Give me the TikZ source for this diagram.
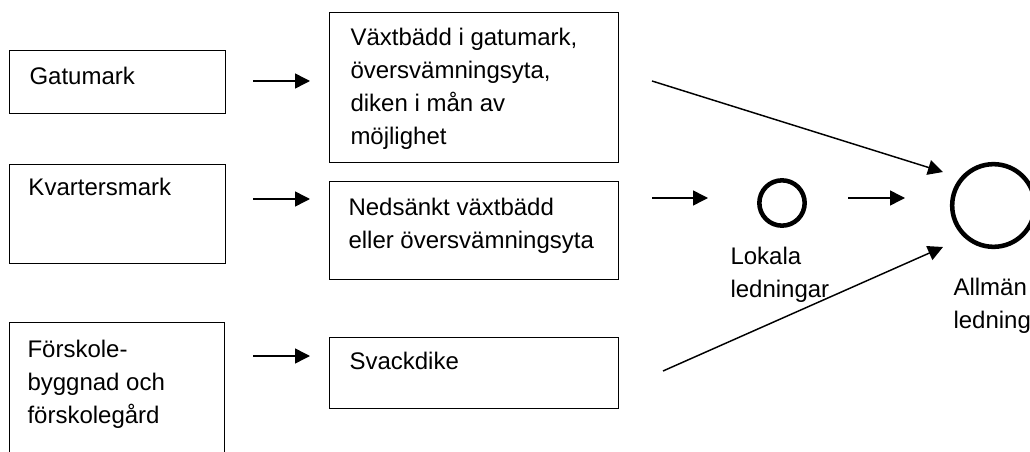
\documentclass[tikz,border=0pt]{standalone}
\usepackage{fontspec}
\setmainfont{Liberation Sans}
\usetikzlibrary{arrows.meta,positioning}

\tikzset{every picture/.style={line width=0.75pt}}
\tikzset{
  ytabox/.style={draw, rectangle, anchor=north west, inner sep=0pt, line width=0.75pt},
  ytatext/.style={anchor=north west, inner sep=0pt, align=left, font=\fontsize{18}{24.75}\selectfont},
  flode/.style={-{Triangle[length=11.25pt,width=11.25pt]}, line width=1.1pt},
  ledning/.style={draw, circle, inner sep=0pt, line width=3.4pt}
}

\begin{document}
\begin{tikzpicture}[x=0.75pt,y=0.75pt,yscale=-1,xscale=1]
\useasboundingbox (0,0) rectangle (1030,452);
\clip (0,0) rectangle (1030,452);

%Shape: Rectangles, ytor
\node [ytabox, minimum width=162pt, minimum height=47.25pt] (gatu) at (9,50) {};
\node [ytabox, minimum width=162pt, minimum height=74.25pt] (kvarter) at (9,164) {};
\node [ytabox, minimum width=161.25pt, minimum height=120pt] (forskola) at (9,322) {};
%Shape: Rectangles, atgarder
\node [ytabox, minimum width=216.75pt, minimum height=112.5pt] (vaxt) at (329,12) {};
\node [ytabox, minimum width=216.75pt, minimum height=73.5pt] (nedsankt) at (329,181) {};
\node [ytabox, minimum width=216.75pt, minimum height=53.25pt] (svack) at (329,337) {};
%Shape: Circles
\node [ledning, minimum size=34pt] (lokal) at (782,203) {};
\node [ledning, minimum size=62pt] (allman) at (993.5,205.5) {};

% Text Node
\node [ytatext, below right=12.75pt and 15pt of gatu.north west] (gatutxt) {Gatumark};
% Text Node
\node [ytatext, below right=10.5pt and 14.25pt of kvarter.north west] (kvartertxt) {Kvartersmark};
% Text Node
\node [ytatext, below right=13.5pt and 13.5pt of forskola.north west] (forskolatxt) {Förskole-\\byggnad och\\förskolegård};
% Text Node
\node [ytatext, below right=12pt and 15.75pt of vaxt.north west] (vaxttxt) {Växtbädd i gatumark,\\översvämningsyta,\\diken i mån av\\möjlighet};
% Text Node
\node [ytatext, below right=12.75pt and 14.25pt of nedsankt.north west] (nedsankttxt) {Nedsänkt växtbädd\\eller översvämningsyta};
% Text Node
\node [ytatext, below right=11.25pt and 15pt of svack.north west] (svacktxt) {Svackdike};
% Text Node
\node [ytatext] (lokaltxt) at (730,247) {Lokala\\ledningar};
% Text Node
\node [ytatext] (allmantxt) at (953,278) {Allmän\\ledningar};

%Straight Lines, arrow ends
\coordinate (g0) at (253,81);   \coordinate (g1) at (310,81);
\coordinate (k0) at (253,199);  \coordinate (k1) at (310,199);
\coordinate (f0) at (253,356);  \coordinate (f1) at (310,356);
\coordinate (n0) at (652,198);  \coordinate (n1) at (708,198);
\coordinate (l0) at (848,198);  \coordinate (l1) at (905,198);
\coordinate (v0) at (652,81);   \coordinate (v1) at (943,172);
\coordinate (s0) at (663,371);  \coordinate (s1) at (943,247);

\draw [flode] (g0) -- (g1);
\draw [flode] (k0) -- (k1);
\draw [flode] (f0) -- (f1);
\draw [flode] (n0) -- (n1);
\draw [flode] (l0) -- (l1);
\draw [flode] (v0) -- (v1);
\draw [flode] (s0) -- (s1);

\end{tikzpicture}
\end{document}
